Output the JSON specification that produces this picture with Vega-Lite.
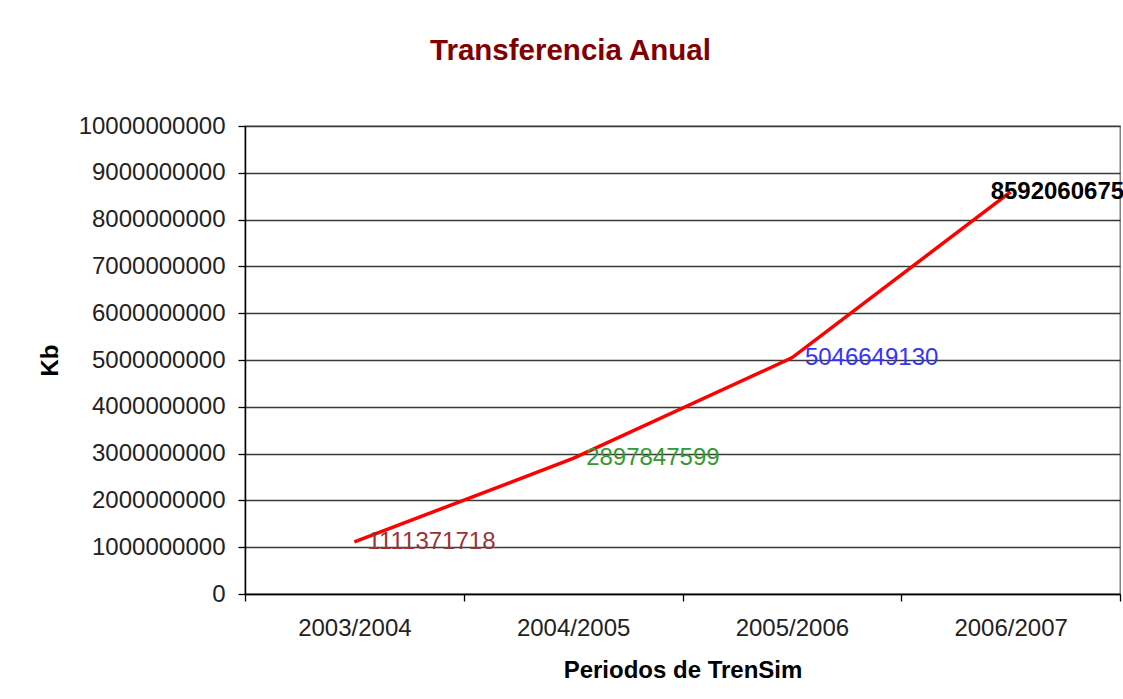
{
  "$schema": "https://vega.github.io/schema/vega-lite/v6.json",
  "width": 875,
  "height": 468,
  "autosize": {"type": "none"},
  "padding": {"left": 245, "top": 126, "right": 3, "bottom": 105},
  "background": "white",
  "config": {"view": {"stroke": "#707070", "strokeWidth": 1.3}},
  "title": {
    "text": "Transferencia Anual",
    "font": "Liberation Sans",
    "fontSize": 29.5,
    "fontWeight": "bold",
    "color": "#800000",
    "anchor": "middle",
    "frame": "group",
    "dx": -112,
    "offset": 48
  },
  "data": {
    "values": [
      {"periodo": "2003/2004", "kb": 1111371718},
      {"periodo": "2004/2005", "kb": 2897847599},
      {"periodo": "2005/2006", "kb": 5046649130},
      {"periodo": "2006/2007", "kb": 8592060675}
    ]
  },
  "encoding": {
    "x": {
      "field": "periodo",
      "type": "ordinal",
      "sort": null,
      "scale": {"paddingInner": 0, "paddingOuter": 0},
      "axis": {
        "title": "Periodos de TrenSim",
        "titleFont": "Liberation Sans",
        "titleFontSize": 24,
        "titleFontWeight": "bold",
        "titleColor": "black",
        "titlePadding": 18,
        "labelAngle": 0,
        "labelFont": "Liberation Sans",
        "labelFontSize": 24,
        "labelColor": "#222",
        "labelPadding": 15,
        "tickBand": "extent",
        "tickSize": 7,
        "tickColor": "black",
        "tickWidth": 1.3,
        "domainColor": "black",
        "domainWidth": 1.5,
        "grid": false
      }
    },
    "y": {
      "field": "kb",
      "type": "quantitative",
      "scale": {"domain": [0, 10000000000], "nice": false},
      "axis": {
        "title": "Kb",
        "titleFont": "Liberation Sans",
        "titleFontSize": 24,
        "titleFontWeight": "bold",
        "titleColor": "black",
        "titlePadding": 16,
        "values": [0, 1000000000, 2000000000, 3000000000, 4000000000, 5000000000, 6000000000, 7000000000, 8000000000, 9000000000, 10000000000],
        "format": "d",
        "labelFont": "Liberation Sans",
        "labelFontSize": 24,
        "labelColor": "#222",
        "labelPadding": 13,
        "tickSize": 7,
        "tickColor": "black",
        "tickWidth": 1.3,
        "domainColor": "black",
        "domainWidth": 1.5,
        "grid": true,
        "gridColor": "#3a3a3a",
        "gridWidth": 1.3
      }
    }
  },
  "layer": [
    {"mark": {"type": "line", "color": "#FF0000", "strokeWidth": 3.5}},
    {
      "transform": [{"filter": "datum.periodo != '2006/2007'"}],
      "mark": {"type": "text", "align": "left", "baseline": "middle", "dx": 13, "dy": 0, "font": "Liberation Sans", "fontSize": 24},
      "encoding": {
        "text": {"field": "kb", "type": "quantitative", "format": "d"},
        "color": {
          "field": "periodo",
          "type": "nominal",
          "scale": {"domain": ["2003/2004", "2004/2005", "2005/2006"], "range": ["#993333", "#339933", "#3333FF"]},
          "legend": null
        }
      }
    },
    {
      "transform": [{"filter": "datum.periodo == '2006/2007'"}],
      "mark": {"type": "text", "align": "left", "baseline": "middle", "dx": -20, "font": "Liberation Sans", "fontSize": 24, "fontWeight": "bold", "color": "black"},
      "encoding": {
        "text": {"field": "kb", "type": "quantitative", "format": "d"}
      }
    }
  ]
}
